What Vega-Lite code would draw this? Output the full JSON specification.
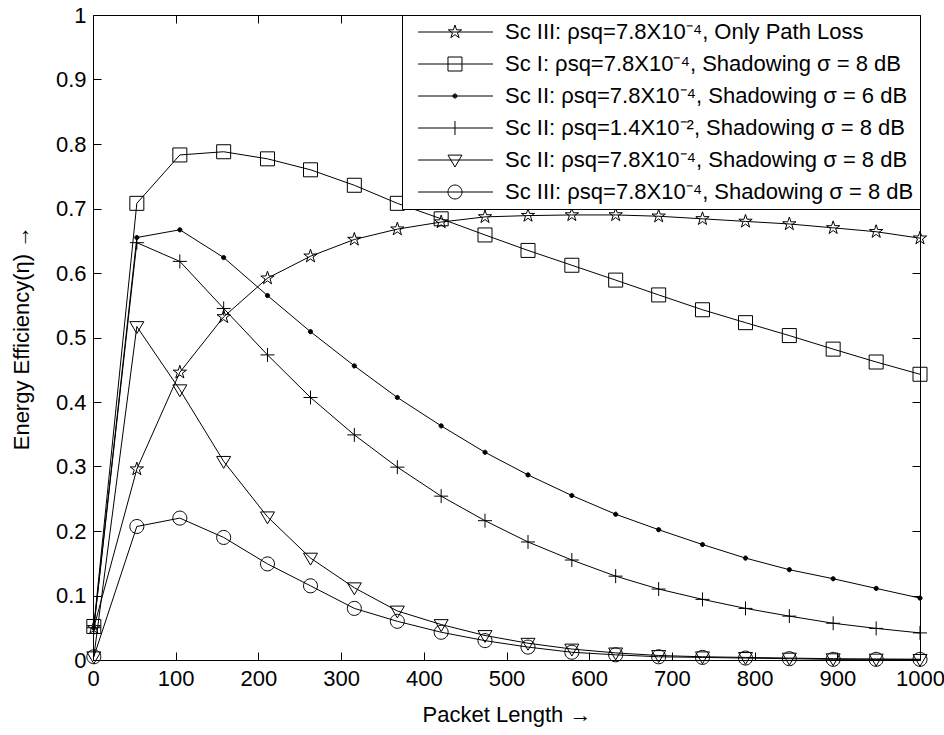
{
  "$schema": "https://vega.github.io/schema/vega-lite/v6.json",
  "autosize": {"type": "none"},
  "padding": {"left": 93, "top": 15, "right": 24, "bottom": 75},
  "width": 827,
  "height": 645,
  "background": "white",
  "config": {
    "view": {"stroke": "black", "strokeWidth": 1},
    "font": "Liberation Sans",
    "axis": {
      "labelFont": "Liberation Sans", "labelFontSize": 22, "labelColor": "black", "labelFlush": false,
      "titleFont": "Liberation Sans", "titleFontSize": 22, "titleFontWeight": "normal", "titleColor": "black",
      "tickColor": "black", "tickWidth": 1, "tickSize": 8, "grid": false, "domain": false
    },
    "point": {"size": 196, "stroke": "black", "strokeWidth": 1, "opacity": 1}
  },
  "data": {"values": [
    {"s":"A","x":1,"y":0.05},{"s":"A","x":53,"y":0.296},{"s":"A","x":105,"y":0.446},{"s":"A","x":158,"y":0.532},{"s":"A","x":211,"y":0.592},{"s":"A","x":263,"y":0.626},{"s":"A","x":316,"y":0.652},{"s":"A","x":368,"y":0.668},{"s":"A","x":421,"y":0.679},{"s":"A","x":474,"y":0.687},{"s":"A","x":526,"y":0.689},{"s":"A","x":579,"y":0.69},{"s":"A","x":632,"y":0.69},{"s":"A","x":684,"y":0.688},{"s":"A","x":737,"y":0.684},{"s":"A","x":789,"y":0.68},{"s":"A","x":842,"y":0.676},{"s":"A","x":895,"y":0.67},{"s":"A","x":947,"y":0.664},{"s":"A","x":1000,"y":0.654},
    {"s":"B","x":1,"y":0.052},{"s":"B","x":53,"y":0.708},{"s":"B","x":105,"y":0.783},{"s":"B","x":158,"y":0.788},{"s":"B","x":211,"y":0.777},{"s":"B","x":263,"y":0.76},{"s":"B","x":316,"y":0.736},{"s":"B","x":368,"y":0.708},{"s":"B","x":421,"y":0.684},{"s":"B","x":474,"y":0.659},{"s":"B","x":526,"y":0.635},{"s":"B","x":579,"y":0.612},{"s":"B","x":632,"y":0.589},{"s":"B","x":684,"y":0.566},{"s":"B","x":737,"y":0.543},{"s":"B","x":789,"y":0.523},{"s":"B","x":842,"y":0.503},{"s":"B","x":895,"y":0.482},{"s":"B","x":947,"y":0.462},{"s":"B","x":1000,"y":0.443},
    {"s":"C","x":1,"y":0.05},{"s":"C","x":53,"y":0.655},{"s":"C","x":105,"y":0.667},{"s":"C","x":158,"y":0.624},{"s":"C","x":211,"y":0.565},{"s":"C","x":263,"y":0.509},{"s":"C","x":316,"y":0.456},{"s":"C","x":368,"y":0.407},{"s":"C","x":421,"y":0.363},{"s":"C","x":474,"y":0.322},{"s":"C","x":526,"y":0.287},{"s":"C","x":579,"y":0.255},{"s":"C","x":632,"y":0.226},{"s":"C","x":684,"y":0.202},{"s":"C","x":737,"y":0.179},{"s":"C","x":789,"y":0.158},{"s":"C","x":842,"y":0.14},{"s":"C","x":895,"y":0.126},{"s":"C","x":947,"y":0.111},{"s":"C","x":1000,"y":0.096},
    {"s":"D","x":1,"y":0.05},{"s":"D","x":53,"y":0.647},{"s":"D","x":105,"y":0.618},{"s":"D","x":158,"y":0.545},{"s":"D","x":211,"y":0.473},{"s":"D","x":263,"y":0.407},{"s":"D","x":316,"y":0.349},{"s":"D","x":368,"y":0.299},{"s":"D","x":421,"y":0.254},{"s":"D","x":474,"y":0.216},{"s":"D","x":526,"y":0.183},{"s":"D","x":579,"y":0.155},{"s":"D","x":632,"y":0.13},{"s":"D","x":684,"y":0.11},{"s":"D","x":737,"y":0.094},{"s":"D","x":789,"y":0.08},{"s":"D","x":842,"y":0.068},{"s":"D","x":895,"y":0.057},{"s":"D","x":947,"y":0.049},{"s":"D","x":1000,"y":0.042},
    {"s":"E","x":1,"y":0.005},{"s":"E","x":53,"y":0.517},{"s":"E","x":105,"y":0.419},{"s":"E","x":158,"y":0.308},{"s":"E","x":211,"y":0.222},{"s":"E","x":263,"y":0.158},{"s":"E","x":316,"y":0.112},{"s":"E","x":368,"y":0.076},{"s":"E","x":421,"y":0.055},{"s":"E","x":474,"y":0.038},{"s":"E","x":526,"y":0.026},{"s":"E","x":579,"y":0.017},{"s":"E","x":632,"y":0.011},{"s":"E","x":684,"y":0.007},{"s":"E","x":737,"y":0.005},{"s":"E","x":789,"y":0.004},{"s":"E","x":842,"y":0.003},{"s":"E","x":895,"y":0.002},{"s":"E","x":947,"y":0.0015},{"s":"E","x":1000,"y":0.001},
    {"s":"F","x":1,"y":0.005},{"s":"F","x":53,"y":0.207},{"s":"F","x":105,"y":0.22},{"s":"F","x":158,"y":0.19},{"s":"F","x":211,"y":0.149},{"s":"F","x":263,"y":0.115},{"s":"F","x":316,"y":0.08},{"s":"F","x":368,"y":0.06},{"s":"F","x":421,"y":0.043},{"s":"F","x":474,"y":0.03},{"s":"F","x":526,"y":0.02},{"s":"F","x":579,"y":0.012},{"s":"F","x":632,"y":0.008},{"s":"F","x":684,"y":0.005},{"s":"F","x":737,"y":0.004},{"s":"F","x":789,"y":0.003},{"s":"F","x":842,"y":0.002},{"s":"F","x":895,"y":0.001},{"s":"F","x":947,"y":0.001},{"s":"F","x":1000,"y":0.001}
  ]},
  "layer": [
    {
      "mark": {"type": "line", "stroke": "black", "strokeWidth": 1},
      "encoding": {
        "x": {"field": "x", "type": "quantitative", "scale": {"domain": [0, 1000], "nice": false, "zero": false},
              "axis": {"orient": "bottom", "values": [0,100,200,300,400,500,600,700,800,900,1000], "format": "d", "ticks": false, "labelPadding": 8, "title": "Packet Length →", "titlePadding": 15}},
        "y": {"field": "y", "type": "quantitative", "scale": {"domain": [0, 1], "nice": false},
              "axis": {"orient": "left", "values": [0,0.1,0.2,0.3,0.4,0.5,0.6,0.7,0.8,0.9,1], "format": "~g", "ticks": false, "labelPadding": 7, "title": "Energy Efficiency(η) →", "titlePadding": 22}},
        "detail": {"field": "s", "type": "nominal"}
      }
    },
    {
      "transform": [{"filter": {"field": "s", "equal": "A"}}],
      "mark": {"type": "point", "filled": false, "shape": "M0,-1L0.2245,-0.309L0.951,-0.309L0.363,0.118L0.588,0.809L0,0.382L-0.588,0.809L-0.363,0.118L-0.951,-0.309L-0.2245,-0.309Z"},
      "encoding": {
        "x": {"field": "x", "type": "quantitative",
              "axis": {"orient": "bottom", "offset": -645, "values": [0,100,200,300,400,500,600,700,800,900,1000], "labels": false, "title": null}},
        "y": {"field": "y", "type": "quantitative",
              "axis": {"orient": "left", "offset": -827, "values": [0,0.1,0.2,0.3,0.4,0.5,0.6,0.7,0.8,0.9,1], "labels": false, "title": null}}
      }
    },
    {
      "transform": [{"filter": {"field": "s", "equal": "B"}}],
      "mark": {"type": "point", "filled": false, "shape": "M-1,-1H1V1H-1Z"},
      "encoding": {
        "x": {"field": "x", "type": "quantitative",
              "axis": {"orient": "top", "offset": -645, "values": [0,100,200,300,400,500,600,700,800,900,1000], "labels": false, "title": null}},
        "y": {"field": "y", "type": "quantitative",
              "axis": {"orient": "right", "offset": -827, "values": [0,0.1,0.2,0.3,0.4,0.5,0.6,0.7,0.8,0.9,1], "labels": false, "title": null}}
      }
    },
    {
      "transform": [{"filter": {"field": "s", "equal": "C"}}],
      "mark": {"type": "point", "filled": true, "fill": "black", "shape": "M-0.3,0A0.3,0.3 0 1,0 0.3,0A0.3,0.3 0 1,0 -0.3,0Z"},
      "encoding": {
        "x": {"field": "x", "type": "quantitative", "axis": null},
        "y": {"field": "y", "type": "quantitative", "axis": null}
      }
    },
    {
      "transform": [{"filter": {"field": "s", "equal": "D"}}],
      "mark": {"type": "point", "filled": false, "shape": "M-1,0H1M0,-1V1"},
      "encoding": {
        "x": {"field": "x", "type": "quantitative", "axis": null},
        "y": {"field": "y", "type": "quantitative", "axis": null}
      }
    },
    {
      "transform": [{"filter": {"field": "s", "equal": "E"}}],
      "mark": {"type": "point", "filled": false, "shape": "M-1,-0.7H1L0,1Z"},
      "encoding": {
        "x": {"field": "x", "type": "quantitative", "axis": null},
        "y": {"field": "y", "type": "quantitative", "axis": null}
      }
    },
    {
      "transform": [{"filter": {"field": "s", "equal": "F"}}],
      "mark": {"type": "point", "filled": false, "shape": "M-1,0A1,1 0 1,0 1,0A1,1 0 1,0 -1,0Z"},
      "encoding": {
        "x": {"field": "x", "type": "quantitative", "axis": null},
        "y": {"field": "y", "type": "quantitative", "axis": null}
      }
    },
    {
      "transform": [{"filter": "datum.x < 0"}],
      "mark": {"type": "point", "filled": false},
      "encoding": {
        "x": {"field": "x", "type": "quantitative", "axis": null},
        "y": {"field": "y", "type": "quantitative", "axis": null},
        "shape": {
          "field": "s", "type": "nominal",
          "scale": {
            "domain": ["A","B","C","D","E","F"],
            "range": [
              "M-0.14,0H10.57M5.14,-1L5.3645,-0.309L6.091,-0.309L5.503,0.118L5.728,0.809L5.14,0.382L4.552,0.809L4.777,0.118L4.189,-0.309L4.9155,-0.309Z",
              "M-0.14,0H10.57M4.14,-1H6.14V1H4.14Z",
              "M-0.14,0H10.57M4.84,0A0.3,0.3 0 1,0 5.44,0A0.3,0.3 0 1,0 4.84,0ZM4.94,0A0.2,0.2 0 1,0 5.34,0A0.2,0.2 0 1,0 4.94,0ZM5.04,0A0.1,0.1 0 1,0 5.24,0A0.1,0.1 0 1,0 5.04,0Z",
              "M-0.14,0H10.57M5.14,-1V1",
              "M-0.14,0H10.57M4.14,-0.7H6.14L5.14,1Z",
              "M-0.14,0H10.57M4.14,0A1,1 0 1,0 6.14,0A1,1 0 1,0 4.14,0Z"
            ]
          },
          "legend": {
            "orient": "top-right", "offset": 0, "title": null,
            "strokeColor": "black", "fillColor": "white", "padding": 6,
            "labelFont": "Liberation Sans", "labelFontSize": 22, "labelColor": "black", "labelLimit": 0,
            "symbolSize": 196, "symbolStrokeColor": "black", "symbolStrokeWidth": 1, "symbolFillColor": "transparent",
            "labelOffset": 75, "rowPadding": 10,
            "labelExpr": "datum.value == 'A' ? 'Sc III: ρsq=7.8X10⁻⁴, Only Path Loss' : datum.value == 'B' ? 'Sc I: ρsq=7.8X10⁻⁴, Shadowing σ = 8 dB' : datum.value == 'C' ? 'Sc II: ρsq=7.8X10⁻⁴, Shadowing σ = 6 dB' : datum.value == 'D' ? 'Sc II: ρsq=1.4X10⁻², Shadowing σ = 8 dB' : datum.value == 'E' ? 'Sc II: ρsq=7.8X10⁻⁴, Shadowing σ = 8 dB' : 'Sc III: ρsq=7.8X10⁻⁴, Shadowing σ = 8 dB'"
          }
        }
      }
    }
  ],
  "resolve": {"axis": {"x": "independent", "y": "independent"}}
}
